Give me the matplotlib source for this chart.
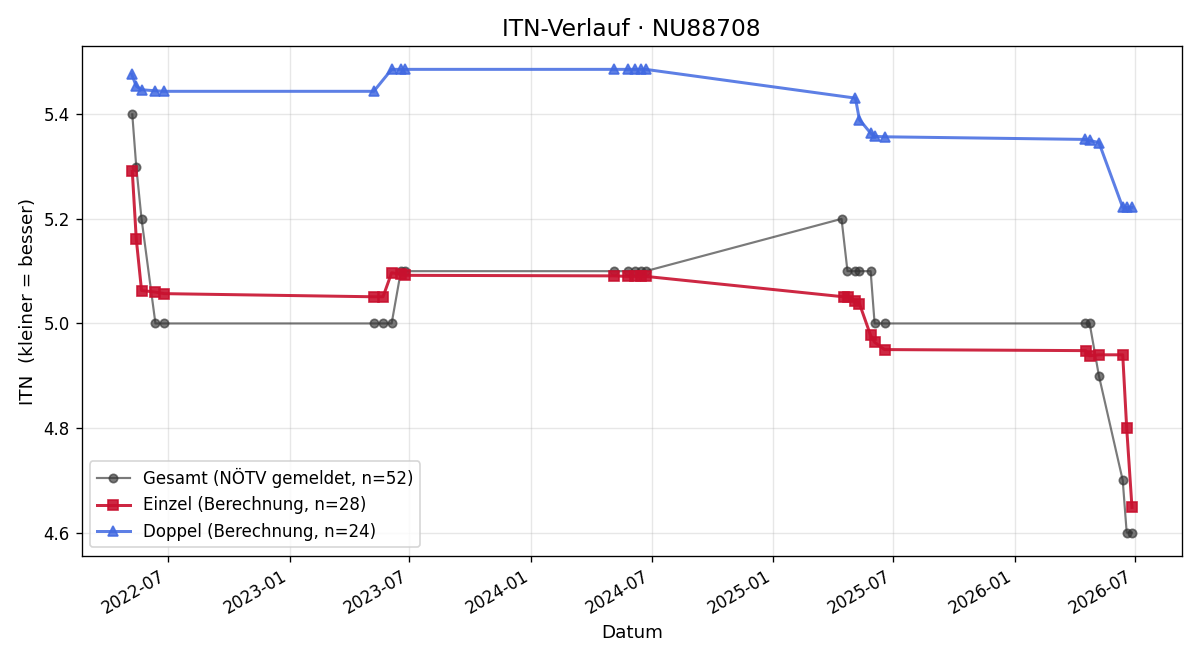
import matplotlib
matplotlib.use("Agg")
import matplotlib.pyplot as plt
import matplotlib.dates as mdates
import pandas as pd

# Gesamt (gemeldet)
gesamt_dates = ["2022-05-08", "2022-05-14", "2022-05-22", "2022-06-12", "2022-06-25",
                "2023-05-08", "2023-05-22", "2023-06-04", "2023-06-18", "2023-06-24",
                "2024-05-05", "2024-05-26", "2024-06-06", "2024-06-15", "2024-06-22",
                "2025-04-14", "2025-04-23", "2025-05-05", "2025-05-11", "2025-05-28",
                "2025-06-03", "2025-06-18",
                "2026-04-17", "2026-04-24", "2026-05-08", "2026-06-13", "2026-06-19",
                "2026-06-27"]
gesamt_itn = [5.4, 5.3, 5.2, 5.0, 5.0,
              5.0, 5.0, 5.0, 5.1, 5.1,
              5.1, 5.1, 5.1, 5.1, 5.1,
              5.2, 5.1, 5.1, 5.1, 5.1,
              5.0, 5.0,
              5.0, 5.0, 4.9, 4.7, 4.6,
              4.6]

# Einzel (Berechnung)
einzel_dates = ["2022-05-08", "2022-05-14", "2022-05-22", "2022-06-12", "2022-06-25",
                "2023-05-08", "2023-05-22",
                "2023-06-04", "2023-06-18", "2023-06-24",
                "2024-05-05", "2024-05-26", "2024-06-06", "2024-06-15", "2024-06-22",
                "2025-04-17", "2025-04-24", "2025-05-05", "2025-05-11", "2025-05-28",
                "2025-06-03", "2025-06-18",
                "2026-04-18", "2026-04-24", "2026-05-08", "2026-06-13", "2026-06-19",
                "2026-06-27"]
einzel_itn = [5.291, 5.162, 5.063, 5.060, 5.057,
              5.051, 5.051,
              5.097, 5.094, 5.092,
              5.091, 5.090, 5.090, 5.090, 5.090,
              5.051, 5.051, 5.043, 5.038, 4.977,
              4.964, 4.950,
              4.948, 4.938, 4.940, 4.940, 4.800,
              4.648]

# Doppel (Berechnung)
doppel_dates = ["2022-05-07", "2022-05-14", "2022-05-22", "2022-06-12", "2022-06-25",
                "2023-05-08",
                "2023-06-04", "2023-06-18", "2023-06-24",
                "2024-05-05", "2024-05-26", "2024-06-06", "2024-06-15", "2024-06-22",
                "2025-05-05", "2025-05-11", "2025-05-28", "2025-06-03", "2025-06-18",
                "2026-04-17", "2026-04-24", "2026-05-08", "2026-06-13", "2026-06-19",
                "2026-06-27"]
doppel_itn = [5.477, 5.454, 5.447, 5.445, 5.444,
              5.444,
              5.486, 5.486, 5.486,
              5.486, 5.486, 5.486, 5.486, 5.486,
              5.431, 5.390, 5.364, 5.358, 5.357,
              5.352, 5.350, 5.346, 5.222, 5.222,
              5.222]

fig, ax = plt.subplots(figsize=(10, 5.5), dpi=120)

ax.plot(pd.to_datetime(gesamt_dates), gesamt_itn, marker="o", ms=5, lw=1.3,
        color="#333333", alpha=0.65, label="Gesamt (NÖTV gemeldet, n=52)")
ax.plot(pd.to_datetime(einzel_dates), einzel_itn, marker="s", ms=6, lw=1.8,
        color="#c8102e", alpha=0.9, label="Einzel (Berechnung, n=28)")
ax.plot(pd.to_datetime(doppel_dates), doppel_itn, marker="^", ms=6, lw=1.8,
        color="#4169e1", alpha=0.85, label="Doppel (Berechnung, n=24)")

ax.xaxis.set_major_locator(mdates.MonthLocator(bymonth=[1, 7]))
ax.xaxis.set_major_formatter(mdates.DateFormatter("%Y-%m"))
fig.autofmt_xdate()

ax.set_title("ITN-Verlauf · NU88708", fontsize=14)
ax.set_xlabel("Datum", fontsize=11)
ax.set_ylabel("ITN  (kleiner = besser)", fontsize=11)
ax.grid(alpha=0.3)
ax.legend(loc="lower left", fontsize=10)

fig.subplots_adjust(left=0.068, right=0.985, top=0.930, bottom=0.158)
plt.savefig("out.png", dpi=120)
